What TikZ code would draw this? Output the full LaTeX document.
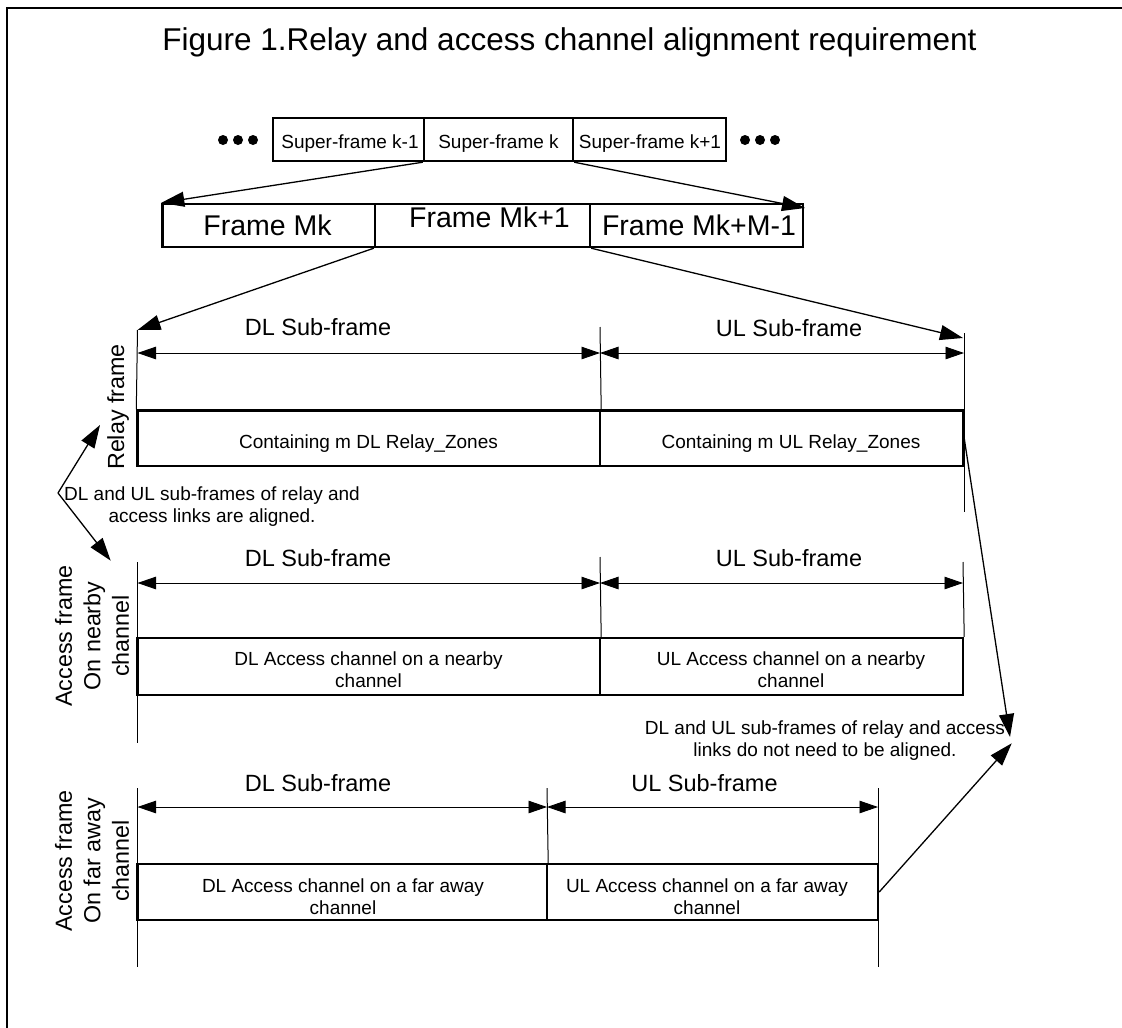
\documentclass[tikz,border=0pt]{standalone}
\usepackage{fontspec}
\setmainfont{Liberation Sans}
\usetikzlibrary{arrows.meta}
\begin{document}
\begin{tikzpicture}[x=1pt,y=-1pt,
  fbox/.style={draw, line width=2.4pt, inner sep=0pt, rectangle},
  vline/.style={line width=1pt},
  dimline/.style={line width=0.9pt, {Triangle[length=18.5pt,width=12.5pt]}-{Triangle[length=18.5pt,width=12.5pt]}},
  conn/.style={line width=1.3pt, -{Triangle[length=23pt,width=15pt]}},
  tsmall/.style={font=\fontsize{19}{22}\selectfont, inner sep=0pt},
  tsub/.style={font=\fontsize{23.5}{27}\selectfont, inner sep=0pt, anchor=base},
  tframe/.style={font=\fontsize{28.5}{32}\selectfont, inner sep=0pt, anchor=base},
  tside/.style={font=\fontsize{23.3}{28.5}\selectfont, inner sep=0pt, rotate=90, align=center},
  dotc/.style={fill=black, draw=none}
]
\useasboundingbox (0,0) rectangle (1122,1028);
% outer frame
\draw[line width=2pt] (7,1028) -- (7,8) -- (1122,8);
% title
\node[anchor=base, font=\fontsize{31.5}{37}\selectfont, inner sep=0pt] (title) at (569.5,50) {Figure 1.Relay and access channel alignment requirement};

% super-frames
\node[fbox, minimum width=151pt, minimum height=43pt] (sf1) at (348.5,139.5) {};
\node[fbox, minimum width=149pt, minimum height=43pt] (sf2) at (498.5,139.5) {};
\node[fbox, minimum width=153pt, minimum height=43pt] (sf3) at (649.5,139.5) {};
\node[tsmall, anchor=base] (sf1t) at (350,148.5) {Super-frame k-1};
\node[tsmall, anchor=base] (sf2t) at (498.5,148.5) {Super-frame k};
\node[tsmall, anchor=base] (sf3t) at (650,148.5) {Super-frame k+1};
\foreach \x in {223,238,253,745,760,775} \fill[dotc] (\x,140) circle (5pt);

% frames
\node[fbox, minimum width=212.5pt, minimum height=43pt] (fr1) at (268.75,225.5) {};
\node[fbox, minimum width=215pt, minimum height=43pt] (fr2) at (482.5,225.5) {};
\node[fbox, minimum width=213pt, minimum height=43pt] (fr3) at (696.5,225.5) {};
\node[tframe] (fr1t) at (267.5,235) {Frame Mk};
\node[tframe] (fr2t) at (489.5,227) {Frame Mk+1};
\node[tframe] (fr3t) at (699,235) {Frame Mk+M-1};

\coordinate (fr3tip) at (805,208);
\draw[conn] (sf2.south west) -- (fr1.north west);
\draw[conn] (sf2.south east) -- (fr3tip);

% ---------- relay frame ----------
\node[fbox, minimum width=462.5pt, minimum height=55.5pt] (rb1) at (368.75,438.25) {};
\node[fbox, minimum width=363pt, minimum height=55.5pt] (rb2) at (781.5,438.25) {};
\coordinate (rTL) at (137.5,330);
\coordinate (rTM) at (600,327);
\coordinate (rTR) at (964,333);
\coordinate (rBR) at (964,512);
\coordinate (rtipR) at (963,338);
\draw[vline] (rTL) -- (rb1.north west);
\draw[vline] (rTM) -- (rb1.north east);
\draw[vline] (rTR) -- (rBR);
\coordinate (rD1) at (137.5,353);
\coordinate (rD2) at (600,353);
\coordinate (rD3) at (964,353);
\draw[dimline] (rD1) -- (rD2);
\draw[dimline] (rD2) -- (rD3);
\draw[conn] (fr2.south west) -- (rTL);
\draw[conn] (fr2.south east) -- (rtipR);
\node[tsub] (rdl) at (318,335.5) {DL Sub-frame};
\node[tsub] (rul) at (789,336) {UL Sub-frame};
\node[tsmall, anchor=base] (rb1t) at (368.5,448) {Containing m DL Relay\_Zones};
\node[tsmall, anchor=base] (rb2t) at (791,448) {Containing m UL Relay\_Zones};
\node[tside] (rlab) at (118,407) {Relay frame};

% left annotation
\coordinate (aV) at (58,493);
\coordinate (aUp) at (100,425);
\coordinate (aDn) at (110.7,560.7);
\draw[conn] (aV) -- (aUp);
\draw[conn] (aV) -- (aDn);
\node[tsmall, align=center] (atxt) at (212,506.5) {DL and UL sub-frames of relay and\\access links are aligned.};

% ---------- access nearby ----------
\node[fbox, minimum width=462.5pt, minimum height=57pt] (nb1) at (368.75,666.5) {};
\node[fbox, minimum width=363pt, minimum height=57pt] (nb2) at (781.5,666.5) {};
\coordinate (nTL) at (137.5,562);
\coordinate (nBL) at (137.5,743);
\coordinate (nTM) at (600,557);
\coordinate (nTR) at (963,562);
\draw[vline] (nTL) -- (nBL);
\draw[vline] (nTM) -- (nb1.north east);
\draw[vline] (nTR) -- (nb2.north east);
\coordinate (nD1) at (137.5,583);
\coordinate (nD2) at (600,583);
\coordinate (nD3) at (963,583);
\draw[dimline] (nD1) -- (nD2);
\draw[dimline] (nD2) -- (nD3);
\node[tsub] (ndl) at (318,566.5) {DL Sub-frame};
\node[tsub] (nul) at (789,566.5) {UL Sub-frame};
\node[tsmall, align=center] (nb1t) at (368.5,670) {DL Access channel on a nearby\\channel};
\node[tsmall, align=center] (nb2t) at (791,670) {UL Access channel on a nearby\\channel};
\node[tside] (nlab) at (92,636) {Access frame\\On nearby\\channel};

% ---------- access far away ----------
\node[fbox, minimum width=409.5pt, minimum height=56pt] (fb1) at (342.25,892) {};
\node[fbox, minimum width=331pt, minimum height=56pt] (fb2) at (712.5,892) {};
\coordinate (fTL) at (137.5,788);
\coordinate (fBL) at (137.5,967);
\coordinate (fTM) at (547,788);
\coordinate (fTR) at (878,788);
\coordinate (fBR) at (878,967);
\draw[vline] (fTL) -- (fBL);
\draw[vline] (fTM) -- (fb1.north east);
\draw[vline] (fTR) -- (fBR);
\coordinate (fD1) at (137.5,807);
\coordinate (fD2) at (547,807);
\coordinate (fD3) at (878,807);
\draw[dimline] (fD1) -- (fD2);
\draw[dimline] (fD2) -- (fD3);
\node[tsub] (fdl) at (318,791.5) {DL Sub-frame};
\node[tsub] (ful) at (704.5,791.5) {UL Sub-frame};
\node[tsmall, align=center] (fb1t) at (343,897) {DL Access channel on a far away\\channel};
\node[tsmall, align=center] (fb2t) at (707,897) {UL Access channel on a far away\\channel};
\node[tside] (flab) at (92,861) {Access frame\\On far away\\channel};

% right annotation
\coordinate (bA) at (1010,737);
\coordinate (bB) at (1011.7,743.3);
\draw[conn] (rb2.east) -- (bA);
\draw[conn] (fb2.east) -- (bB);
\node[tsmall, align=center] (btxt) at (825,741) {DL and UL sub-frames of relay and access\\links do not need to be aligned.};
\end{tikzpicture}
\end{document}
